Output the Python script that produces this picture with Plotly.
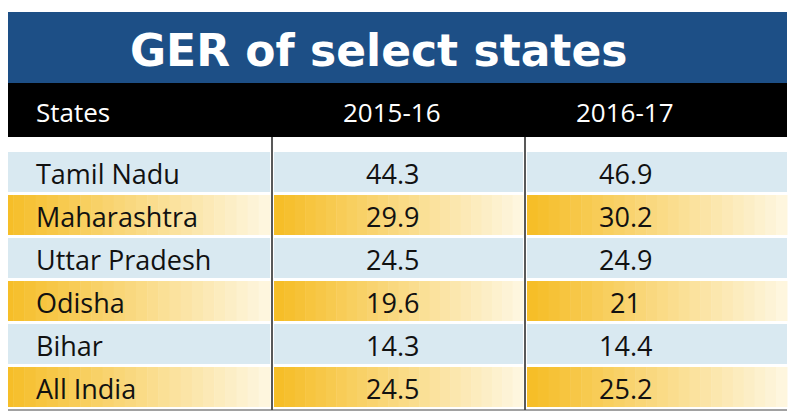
import plotly.graph_objects as go

title = "GER of select states"
headers = ["States", "2015-16", "2016-17"]
states = ["Tamil Nadu", "Maharashtra", "Uttar Pradesh", "Odisha", "Bihar", "All India"]
ger_2015 = ["44.3", "29.9", "24.5", "19.6", "14.3", "24.5"]
ger_2016 = ["46.9", "30.2", "24.9", "21", "14.4", "25.2"]

W, H = 800, 418
OFF = 8  # page body margin compensation
L, R = 2, 787
cols = [(L, 270), (274, 523), (527, R)]
row_top, row_h, gap = 152, 43, 3

fig = go.Figure()
shapes, ann = [], []
def rect(x0, y0, x1, y1, color):
    shapes.append(dict(type="rect", xref="x", yref="y", x0=x0, x1=x1, y0=y0, y1=y1,
                       fillcolor=color, line=dict(width=0), layer="below"))

rect(L, 12, R, 83, "#1d4f86")
rect(L, 83, R, 137, "#000000")
ann.append(dict(x=378, y=50, text="<b>" + title + "</b>", showarrow=False,
                font=dict(family="DejaVu Sans", size=44, color="white")))
hx = [34, 392, 625]
for i, h in enumerate(headers):
    ann.append(dict(x=hx[i], y=112, text=h, showarrow=False, xanchor="left" if i == 0 else "center",
                    font=dict(family="Open Sans", size=26, color="white")))

def lerp(c1, c2, t):
    return "rgb(%d,%d,%d)" % tuple(int(a + (b - a) * t) for a, b in zip(c1, c2))

N = 24
for r in range(len(states)):
    y0 = row_top + r * row_h
    y1 = y0 + row_h - gap
    for (x0, x1) in cols:
        if r % 2 == 0:
            rect(x0, y0, x1, y1, "#d9e9f1")
        else:
            for k in range(N):
                t = k / (N - 1)
                rect(x0 + (x1 - x0) * k / N, y0, x0 + (x1 - x0) * (k + 1) / N + 0.5, y1,
                     lerp((246, 190, 40), (254, 246, 222), t))
    yc = (y0 + y1) / 2 + 1
    for x, txt, anc in [(34, states[r], "left"), (392, ger_2015[r], "center"), (625, ger_2016[r], "center")]:
        ann.append(dict(x=x, y=yc, text=txt, showarrow=False, xanchor=anc,
                        font=dict(family="Open Sans", size=27, color="#111111")))

for xv in [272, 525]:
    shapes.append(dict(type="line", xref="x", yref="y", x0=xv, x1=xv, y0=137, y1=410,
                       line=dict(color="#222222", width=1.5)))
shapes.append(dict(type="line", xref="x", yref="y", x0=L, x1=R, y0=410, y1=410,
                   line=dict(color="#444444", width=1)))

fig.update_layout(width=W, height=H, margin=dict(l=0, r=0, t=0, b=0),
                  plot_bgcolor="white", paper_bgcolor="white", shapes=shapes, annotations=ann,
                  xaxis=dict(range=[OFF, W + OFF], visible=False, fixedrange=True),
                  yaxis=dict(range=[H + OFF, OFF], visible=False, fixedrange=True),
                  showlegend=False)
fig.write_html("out.html")
